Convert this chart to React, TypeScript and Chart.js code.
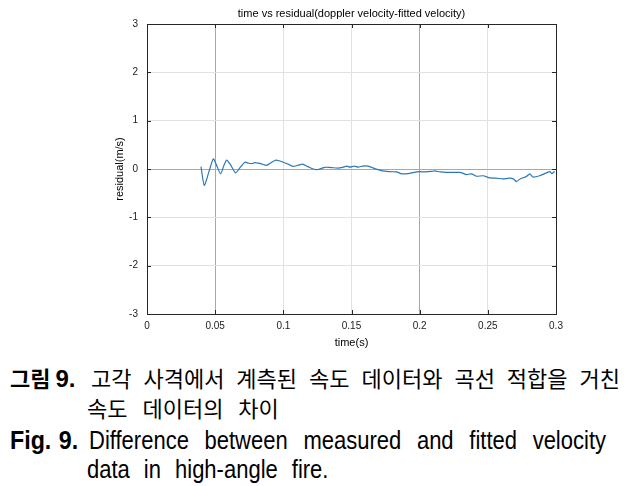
import React, { useEffect, useRef } from "react";
import { Chart, registerables } from "chart.js";

Chart.register(...registerables);

const timeSec = [0.0396, 0.042, 0.0455, 0.0486, 0.051, 0.054, 0.0565, 0.0584, 0.061, 0.065, 0.068, 0.0718, 0.0745, 0.0767, 0.079, 0.0816, 0.0845, 0.0877, 0.091, 0.0945, 0.097, 0.0999, 0.1043, 0.107, 0.111, 0.114, 0.118, 0.122, 0.1256, 0.1305, 0.135, 0.14, 0.1435, 0.1464, 0.149, 0.152, 0.155, 0.158, 0.162, 0.165, 0.168, 0.172, 0.175, 0.178, 0.183, 0.187, 0.1916, 0.196, 0.2, 0.204, 0.2087, 0.211, 0.215, 0.2197, 0.224, 0.229, 0.232, 0.234, 0.238, 0.2417, 0.2465, 0.2514, 0.256, 0.261, 0.266, 0.269, 0.271, 0.274, 0.278, 0.2808, 0.283, 0.288, 0.293, 0.2955, 0.297, 0.299];
const residual = [0.05, -0.34, -0.05, 0.21, 0.08, -0.1, 0.08, 0.185, 0.1, -0.08, 0.02, 0.14, 0.12, 0.11, 0.13, 0.12, 0.1, 0.075, 0.13, 0.185, 0.17, 0.14, 0.09, 0.055, 0.08, 0.1, 0.05, 0.0, -0.01, 0.035, 0.03, 0.02, 0.035, 0.06, 0.04, 0.06, 0.04, 0.06, 0.06, 0.03, 0.0, -0.035, -0.045, -0.056, -0.06, -0.1, -0.097, -0.07, -0.056, -0.06, -0.05, -0.04, -0.06, -0.07, -0.07, -0.07, -0.09, -0.117, -0.1, -0.15, -0.14, -0.185, -0.19, -0.205, -0.19, -0.21, -0.26, -0.2, -0.16, -0.1, -0.165, -0.14, -0.08, -0.055, -0.097, -0.05];

const xTickValues = [0, 0.05, 0.1, 0.15, 0.2, 0.25, 0.3];
const xTickLabels = ["0", "0.05", "0.1", "0.15", "0.2", "0.25", "0.3"];
const yTickValues = [-3, -2, -1, 0, 1, 2, 3];

const chartTitle = "time vs residual(doppler velocity-fitted velocity)";
const xTitle = "time(s)";
const yTitle = "residual(m/s)";

const FONT = "'Liberation Sans', Arial, sans-serif";

const framePlugin = {
  id: "frame",
  afterDraw(chart: any) {
    const { ctx, chartArea } = chart;
    const { left, right, top, bottom } = chartArea;
    const xs = chart.scales.x;
    const ys = chart.scales.y;
    ctx.save();
    ctx.strokeStyle = "#262626";
    ctx.lineWidth = 1;
    ctx.beginPath();
    ctx.moveTo(left, top + 0.5);
    ctx.lineTo(right + 0.5, top + 0.5);
    ctx.lineTo(right + 0.5, bottom);
    ctx.stroke();
    ctx.beginPath();
    for (const v of xTickValues) {
      const px = Math.round(xs.getPixelForValue(v)) + 0.5;
      ctx.moveTo(px, bottom);
      ctx.lineTo(px, bottom - 4);
      ctx.moveTo(px, top);
      ctx.lineTo(px, top + 4);
    }
    for (const v of yTickValues) {
      const py = Math.round(ys.getPixelForValue(v)) + 0.5;
      ctx.moveTo(left, py);
      ctx.lineTo(left + 4, py);
      ctx.moveTo(right, py);
      ctx.lineTo(right - 4, py);
    }
    ctx.stroke();
    ctx.fillStyle = "#000";
    ctx.font = `11px ${FONT}`;
    ctx.textAlign = "center";
    ctx.textBaseline = "middle";
    ctx.fillText(chartTitle, (left + right) / 2, 14);
    ctx.restore();
  },
};

export default function App() {
  const ref = useRef<HTMLCanvasElement | null>(null);
  useEffect(() => {
    if (!ref.current) return;
    const chart = new Chart(ref.current, {
      type: "line",
      data: {
        datasets: [
          {
            data: timeSec.map((t, i) => ({ x: t, y: residual[i] })),
            borderColor: "#2a78b6",
            borderWidth: 1.2,
            pointRadius: 0,
            fill: false,
            tension: 0.2,
          },
        ],
      },
      options: {
        responsive: false,
        animation: false,
        layout: { padding: { left: 113, right: 83, top: 24, bottom: 0 } },
        plugins: { legend: { display: false }, tooltip: { enabled: false }, title: { display: false } },
        scales: {
          x: {
            type: "linear",
            min: 0,
            max: 0.3,
            afterBuildTicks: (s: any) => {
              s.ticks = xTickValues.map((v) => ({ value: v }));
            },
            afterFit: (s: any) => {
              s.height = 36;
            },
            ticks: {
              padding: 6,
              color: "#222",
              font: { family: FONT, size: 10 },
              maxRotation: 0,
              autoSkip: false,
              callback: (v: any) => {
                const i = xTickValues.findIndex((t) => Math.abs(t - Number(v)) < 1e-9);
                return i >= 0 ? xTickLabels[i] : "";
              },
            },
            grid: {
              drawTicks: false,
              color: (c: any) => {
                const v = c.tick ? c.tick.value : NaN;
                if (Math.abs(v - 0.05) < 1e-9 || Math.abs(v - 0.2) < 1e-9) return "#a8a8a8";
                return "#e2e2e2";
              },
            },
            border: { display: true, color: "#262626", width: 1 },
            title: { display: true, text: xTitle, color: "#000", font: { family: FONT, size: 11 }, padding: { top: 0, bottom: 0 } },
          },
          y: {
            type: "linear",
            min: -3,
            max: 3,
            afterBuildTicks: (s: any) => {
              s.ticks = yTickValues.map((v) => ({ value: v }));
            },
            afterFit: (s: any) => {
              s.width = 34;
            },
            ticks: {
              padding: 9,
              color: "#222",
              font: { family: FONT, size: 10 },
              autoSkip: false,
              callback: (v: any) => String(v),
            },
            grid: {
              drawTicks: false,
              color: (c: any) => {
                const v = c.tick ? c.tick.value : NaN;
                if (v === 0) return "#a8a8a8";
                return "#e2e2e2";
              },
            },
            border: { display: true, color: "#262626", width: 1 },
            title: { display: true, text: yTitle, color: "#000", font: { family: FONT, size: 11 }, padding: { top: 0, bottom: 0 } },
          },
        },
      },
      plugins: [framePlugin],
    } as any);
    return () => chart.destroy();
  }, []);

  const kr = "'Noto Sans CJK KR', sans-serif";
  const en = "'Liberation Sans', Arial, sans-serif";
  const S = 0.88;
  const line = (top: number): React.CSSProperties => ({
    position: "absolute",
    top,
    left: 0,
    width: 639,
    height: 30,
    lineHeight: "30px",
    whiteSpace: "nowrap",
  });
  const justify: React.CSSProperties = {
    position: "absolute",
    left: 91,
    right: 19,
    textAlign: "justify",
    textAlignLast: "justify" as any,
    whiteSpace: "normal",
  };

  return (
    <div style={{ position: "absolute", left: 0, top: 0, width: 639, height: 486, background: "#fff", overflow: "hidden" }}>
      <canvas ref={ref} width={639} height={350} style={{ position: "absolute", left: 0, top: 0, width: 639, height: 350 }} />
      <div style={{ ...line(362), fontFamily: kr, fontSize: 22 }}>
        <span style={{ position: "absolute", left: 10, fontWeight: 700 }}>
          그림 <span style={{ fontFamily: en, fontSize: 24 }}>9.</span>
        </span>
        <span style={justify}>고각 사격에서 계측된 속도 데이터와 곡선 적합을 거친</span>
      </div>
      <div style={{ ...line(392), fontFamily: kr, fontSize: 22 }}>
        <span style={{ position: "absolute", left: 87, wordSpacing: 10 }}>속도 데이터의 차이</span>
      </div>
      <div style={{ ...line(425), fontFamily: en, fontSize: 25 }}>
        <span style={{ position: "absolute", left: 10, fontWeight: 700, wordSpacing: 1, transform: "scaleX(0.93)", transformOrigin: "left center" }}>Fig. 9.</span>
        <div
          style={{
            position: "absolute",
            left: 89,
            top: 0,
            width: 517 / S,
            transform: `scaleX(${S})`,
            transformOrigin: "left center",
            textAlign: "justify",
            textAlignLast: "justify" as any,
            whiteSpace: "normal",
          }}
        >
          Difference between measured and fitted velocity
        </div>
      </div>
      <div style={{ ...line(454), fontFamily: en, fontSize: 25 }}>
        <span style={{ position: "absolute", left: 87, wordSpacing: 9, transform: `scaleX(${S})`, transformOrigin: "left center" }}>
          data in high-angle fire.
        </span>
      </div>
    </div>
  );
}
